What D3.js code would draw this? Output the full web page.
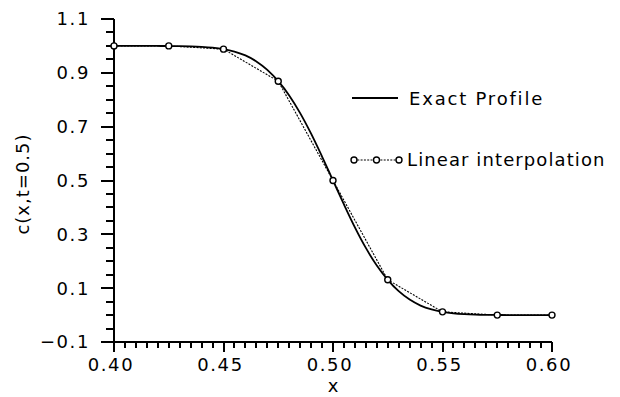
<!DOCTYPE html>
<html>
<head>
<meta charset="utf-8">
<script src="https://cdn.jsdelivr.net/npm/d3@7"></script>
<style>
  html, body { margin: 0; padding: 0; background: #fff; color: #000; }
  svg { display: block; }
  text { font-family: "DejaVu Sans", sans-serif; fill: #000; }
</style>
</head>
<body>
<svg id="chart" width="620" height="397"></svg>
<script>
// Concentration profile c(x, t=0.5): nodal samples and the exact front
const nodeX = [0.40, 0.425, 0.45, 0.475, 0.50, 0.525, 0.55, 0.575, 0.60];
const nodeC = [1.000, 1.000, 0.988, 0.869, 0.500, 0.131, 0.012, 0.000, 0.000];

const exactX = [0.400, 0.405, 0.410, 0.415, 0.420, 0.425, 0.430, 0.435, 0.440, 0.445,
                0.450, 0.455, 0.460, 0.465, 0.470, 0.475, 0.480, 0.485, 0.490, 0.495,
                0.500, 0.505, 0.510, 0.515, 0.520, 0.525, 0.530, 0.535, 0.540, 0.545,
                0.550, 0.555, 0.560, 0.565, 0.570, 0.575, 0.580, 0.585, 0.590, 0.595, 0.600];
const exactC = [1.000, 1.000, 1.000, 1.000, 0.9998, 0.9996, 0.9992, 0.9983, 0.9965, 0.9934,
                0.988, 0.9789, 0.9646, 0.9424, 0.9112, 0.869, 0.816, 0.7505, 0.674, 0.589,
                0.500, 0.411, 0.326, 0.2495, 0.184, 0.131, 0.0888, 0.0576, 0.0354, 0.0211,
                0.012, 0.0066, 0.0035, 0.0017, 0.0008, 0.0004, 0.000, 0.000, 0.000, 0.000, 0.000];

const yTickLabels = ["\u22120.1", "0.1", "0.3", "0.5", "0.7", "0.9", "1.1"];
const yTickValues = [-0.1, 0.1, 0.3, 0.5, 0.7, 0.9, 1.1];
const xTickLabels = ["0.40", "0.45", "0.50", "0.55", "0.60"];
const xTickValues = [0.40, 0.45, 0.50, 0.55, 0.60];

const xLabel = "x";
const yLabel = "c(x,t=0.5)";
const legendLabels = ["Exact  Profile", "Linear  interpolation"];
</script>
<script>
const svg = d3.select("#chart");

const x = d3.scaleLinear().domain([0.40, 0.60]).range([114, 552]);
const y = d3.scaleLinear().domain([-0.1, 1.1]).range([342, 19]);
const x0 = x(0.40), y0 = y(-0.1);

// ---- axes -------------------------------------------------------------
const xMinor = d3.range(0, 41).map(i => 0.40 + i * 0.005);
const yMinor = d3.range(0, 25).map(i => -0.1 + i * 0.05);
const snap = v => Math.round(v);

// x ticks point down, y ticks point left; snapped to whole pixels for crisp strokes
const tickPath = []
  .concat(xMinor.map(v => `M${snap(x(v))},${y0}V${y0 + 6}`))
  .concat(yMinor.map(v => `M${x0},${snap(y(v))}H${x0 - 8}`))
  .join("");
const majorPath = []
  .concat(xTickValues.map(v => `M${snap(x(v))},${y0}V${y0 + 10}`))
  .concat(yTickValues.map(v => `M${x0},${snap(y(v))}H${x0 - 13}`))
  .join("");

svg.append("path").attr("d", tickPath)
  .attr("fill", "none").attr("stroke", "#000").attr("stroke-width", 2);
svg.append("path").attr("d", majorPath)
  .attr("fill", "none").attr("stroke", "#000").attr("stroke-width", 2);

// axis lines
svg.append("path")
  .attr("d", `M${x0},${y(1.1)}V${y0}H${x(0.60)}`)
  .attr("fill", "none").attr("stroke", "#000").attr("stroke-width", 2);

// tick labels
svg.append("g").selectAll("text").data(xTickValues).join("text")
  .attr("x", d => x(d) - 3).attr("y", y0 + 29)
  .attr("text-anchor", "middle")
  .style("font-size", "18px").style("letter-spacing", "1.6px")
  .text((d, i) => xTickLabels[i]);

svg.append("g").selectAll("text").data(yTickValues).join("text")
  .attr("x", x0 - 24).attr("y", d => y(d)).attr("dy", "0.36em")
  .attr("text-anchor", "end")
  .style("font-size", "18px").style("letter-spacing", "1.6px")
  .text((d, i) => yTickLabels[i]);

// axis titles
svg.append("text")
  .attr("x", 333).attr("y", 392)
  .attr("text-anchor", "middle")
  .style("font-size", "18px")
  .text(xLabel);

svg.append("text")
  .attr("transform", "translate(29,184) rotate(-90)")
  .attr("text-anchor", "middle")
  .style("font-size", "18px").style("letter-spacing", "1px")
  .text(yLabel);

// ---- curves -----------------------------------------------------------
const exactPts = exactX.map((v, i) => [v, exactC[i]]);
const nodePts = nodeX.map((v, i) => [v, nodeC[i]]);

const smooth = d3.line().x(d => x(d[0])).y(d => y(d[1])).curve(d3.curveMonotoneX);
const straight = d3.line().x(d => x(d[0])).y(d => y(d[1]));

svg.append("path")
  .datum(exactPts)
  .attr("d", smooth)
  .attr("fill", "none")
  .attr("stroke", "#000")
  .attr("stroke-width", 1.8);

svg.append("path")
  .datum(nodePts)
  .attr("d", straight)
  .attr("fill", "none")
  .attr("stroke", "#000")
  .attr("stroke-width", 1.1)
  .attr("stroke-dasharray", "2,1.3");

svg.append("g")
  .selectAll("circle")
  .data(nodePts)
  .join("circle")
  .attr("cx", d => x(d[0]))
  .attr("cy", d => y(d[1]))
  .attr("r", 3)
  .attr("fill", "#fff")
  .attr("stroke", "#000")
  .attr("stroke-width", 1.4);

// ---- legend -----------------------------------------------------------
const legend = svg.append("g");
legend.append("line")
  .attr("x1", 352).attr("x2", 398).attr("y1", 98).attr("y2", 98)
  .attr("stroke", "#000").attr("stroke-width", 1.8);
legend.append("text")
  .attr("x", 409).attr("y", 105)
  .style("font-size", "18px").style("letter-spacing", "1.8px")
  .text(legendLabels[0]);

const legendNodes = [354, 376.5, 399];
legend.append("line")
  .attr("x1", legendNodes[0]).attr("x2", legendNodes[2]).attr("y1", 160).attr("y2", 160)
  .attr("stroke", "#000").attr("stroke-width", 1.1).attr("stroke-dasharray", "2,1.3");
legend.selectAll("circle")
  .data(legendNodes)
  .join("circle")
  .attr("cx", d => d).attr("cy", 160).attr("r", 3)
  .attr("fill", "#fff").attr("stroke", "#000").attr("stroke-width", 1.4);
legend.append("text")
  .attr("x", 407).attr("y", 166)
  .style("font-size", "18px").style("letter-spacing", "1.1px")
  .text(legendLabels[1]);
</script>
</body>
</html>
